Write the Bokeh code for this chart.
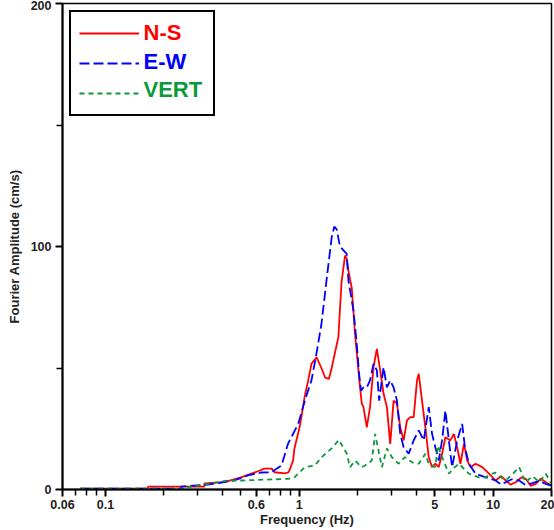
from bokeh.plotting import figure
from bokeh.models import FixedTicker, Legend, LegendItem, Label
from bokeh.embed import file_html
from bokeh.resources import INLINE

# ---- data ----
ns_f = [0.074, 0.165, 0.166, 0.323, 0.324, 0.41, 0.50, 0.612, 0.66, 0.72, 0.744, 0.84, 0.876, 0.889,
        0.929, 0.944, 1.002, 1.026, 1.064, 1.112, 1.156, 1.228, 1.30, 1.36, 1.421, 1.468, 1.59, 1.65,
        1.721, 1.756, 1.792, 1.864, 1.938, 2.057, 2.10, 2.142, 2.229, 2.316, 2.414, 2.512, 2.613,
        2.721, 2.83, 2.944, 3.065, 3.188, 3.316, 3.453, 3.592, 3.736, 3.891, 4.047, 4.13, 4.296,
        4.468, 4.653, 4.84, 5.03, 5.24, 5.45, 5.67, 6.02, 6.27, 6.52, 6.78, 7.07, 7.35, 7.65, 8.11,
        8.79, 9.52, 10.3, 11.0, 11.6, 12.3, 13.07, 14.0, 14.74, 15.6, 16.6, 17.6, 18.7, 19.9]
ns_a = [0.3, 0.3, 1.2, 1.2, 2.5, 3.0, 5.0, 7.5, 8.6, 8.6, 7.1, 6.6, 7.0, 7.8,
        12.0, 17.0, 25.5, 30.0, 38.0, 45.0, 51.8, 54.4, 50.0, 46.0, 45.5, 50.0, 62.7, 85.0,
        96.3, 95.0, 90.0, 83.0, 64.0, 42.0, 35.4, 33.9, 25.6, 33.9, 50.3, 57.9, 49.0,
        39.4, 33.9, 18.8, 36.6, 35.4, 25.6, 20.2, 28.4, 29.8, 29.8, 44.9, 47.6, 36.6,
        25.6, 13.3, 9.2, 10.6, 9.2, 14.7, 21.5, 20.2, 22.9, 17.4, 10.6, 18.8, 11.9, 9.2, 10.6,
        9.2, 6.5, 3.7, 5.5, 3.7, 2.0, 3.0, 5.0, 4.4, 1.5, 2.3, 4.5, 3.0, 1.6]

ew_f = [0.074, 0.245, 0.246, 0.337, 0.461, 0.544, 0.636, 0.718, 0.809, 0.876, 0.987, 1.068, 1.156,
        1.22, 1.30, 1.40, 1.47, 1.516, 1.56, 1.62, 1.756, 1.792, 1.902, 1.978, 2.033, 2.082, 2.142,
        2.229, 2.316, 2.414, 2.512, 2.582, 2.721, 2.83, 2.944, 3.065, 3.188, 3.316, 3.453, 3.666,
        3.891, 4.13, 4.384, 4.653, 4.84, 5.03, 5.24, 5.45, 5.67, 5.91, 6.14, 6.52, 6.92, 7.15,
        7.5, 8.11, 9.14, 10.3, 11.0, 11.6, 12.5, 13.62, 14.7, 15.97, 17.2, 18.7, 19.9]
ew_a = [0.3, 0.3, 1.2, 2.0, 3.7, 5.8, 7.0, 7.1, 9.9, 19.0, 27.0, 36.6, 45.0,
        55.0, 68.0, 90.0, 104.0, 108.2, 107.0, 100.0, 97.0, 86.0, 73.7, 60.0, 47.6, 40.7, 42.0,
        42.0, 44.9, 51.7, 49.0, 36.6, 50.3, 42.0, 44.9, 42.0, 36.6, 22.9, 17.4, 14.7,
        20.2, 24.3, 20.2, 33.9, 22.9, 17.4, 11.9, 20.2, 32.5, 20.2, 9.2, 20.2, 27.0, 17.4,
        10.6, 6.5, 5.0, 3.7, 2.0, 3.0, 4.2, 3.7, 1.8, 2.6, 3.5, 2.3, 1.6]

vt_f = [0.074, 0.266, 0.267, 0.428, 0.50, 0.876, 0.944, 1.068, 1.203, 1.303, 1.468, 1.60, 1.756,
        1.827, 1.938, 2.10, 2.184, 2.364, 2.46, 2.667, 2.83, 3.004, 3.253, 3.507, 3.813, 4.13,
        4.468, 4.653, 5.02, 5.2, 5.45, 5.91, 6.3, 6.65, 7.5, 8.45, 9.11, 10.2, 11.57, 12.5, 13.62,
        14.68, 16.0, 17.29, 18.7, 19.9]
vt_a = [0.3, 0.3, 1.0, 3.7, 3.7, 4.4, 5.0, 9.2, 9.9, 13.3, 16.9, 20.4, 14.8,
        9.2, 11.9, 9.2, 9.9, 11.9, 22.9, 9.2, 16.9, 13.3, 10.6, 13.3, 11.2, 10.6,
        14.7, 10.6, 9.2, 18.0, 13.3, 6.5, 9.0, 10.6, 6.5, 5.0, 5.0, 7.0, 3.7, 6.0, 9.2,
        3.0, 5.5, 3.0, 6.5, 2.5]

x_ticks = [0.06, 0.1, 0.6, 1, 5, 10, 20]
x_tick_labels = ["0.06", "0.1", "0.6", "1", "5", "10", "20"]
x_minor = [0.07, 0.08, 0.09, 0.2, 0.3, 0.4, 0.5, 0.7, 0.8, 0.9, 2, 3, 4, 6, 7, 8, 9]
y_ticks = [0, 100, 200]
y_minor = [50, 150]

RED = "#ff0000"
BLUE = "#0000ff"
GREEN = "#0a9a3a"
FONT = "Liberation Sans"

p = figure(width=554, height=530, x_axis_type="log", x_range=(0.06, 20), y_range=(0, 200),
           output_backend="svg", toolbar_location=None,
           min_border_left=62, min_border_right=3, min_border_top=3, min_border_bottom=41)
p.grid.visible = False
p.outline_line_color = "black"
p.outline_line_width = 1.5
p.background_fill_color = "white"
p.border_fill_color = "white"

r_ns = p.line(ns_f, ns_a, line_color=RED, line_width=1.8)
r_ew = p.line(ew_f, ew_a, line_color=BLUE, line_width=1.8, line_dash="10 4")
r_vt = p.line(vt_f, vt_a, line_color=GREEN, line_width=1.8, line_dash="5 4")

xa = p.xaxis[0]
xa.ticker = FixedTicker(ticks=x_ticks, minor_ticks=x_minor)
xa.major_label_overrides = {t: l for t, l in zip(x_ticks, x_tick_labels)}
xa.axis_label = "Frequency (Hz)"
ya = p.yaxis[0]
ya.ticker = FixedTicker(ticks=y_ticks, minor_ticks=y_minor)
ya.axis_label = "Fourier Amplitude (cm/s)"
for ax in (xa, ya):
    ax.axis_line_width = 2
    ax.axis_line_color = "black"
    ax.major_tick_in = 0
    ax.major_tick_out = 7
    ax.minor_tick_in = 0
    ax.minor_tick_out = 6
    ax.major_tick_line_width = 2
    ax.minor_tick_line_width = 1.5
    ax.major_label_text_font = FONT
    ax.major_label_text_font_size = "12.5px"
    ax.major_label_text_font_style = "bold"
    ax.major_label_text_color = "#222222"
    ax.axis_label_text_font = FONT
    ax.axis_label_text_font_size = "13px"
    ax.axis_label_text_font_style = "bold"
    ax.axis_label_text_color = "#222222"
xa.major_label_standoff = 3
xa.axis_label_standoff = 0
ya.major_label_standoff = 4
ya.axis_label_standoff = 6

legend = Legend(items=[LegendItem(label="N-S", renderers=[r_ns]),
                       LegendItem(label="E-W", renderers=[r_ew]),
                       LegendItem(label="VERT", renderers=[r_vt])],
                location="top_left", margin=7, padding=8, spacing=4,
                glyph_width=60, glyph_height=24, label_standoff=7,
                label_text_font=FONT, label_text_font_size="22px", label_text_font_style="bold",
                label_text_alpha=0, border_line_color="black", border_line_width=2,
                border_line_alpha=1, background_fill_alpha=0)
p.add_layout(legend)

for txt, col, yy in (("N-S", RED, 457), ("E-W", BLUE, 428), ("VERT", GREEN, 400)):
    p.add_layout(Label(x=81, y=yy, x_units="screen", y_units="screen", text=txt,
                       text_color=col, text_font=FONT, text_font_size="22px",
                       text_font_style="bold", text_baseline="middle", level="overlay"))

open("out.html", "w").write(file_html(p, INLINE))
